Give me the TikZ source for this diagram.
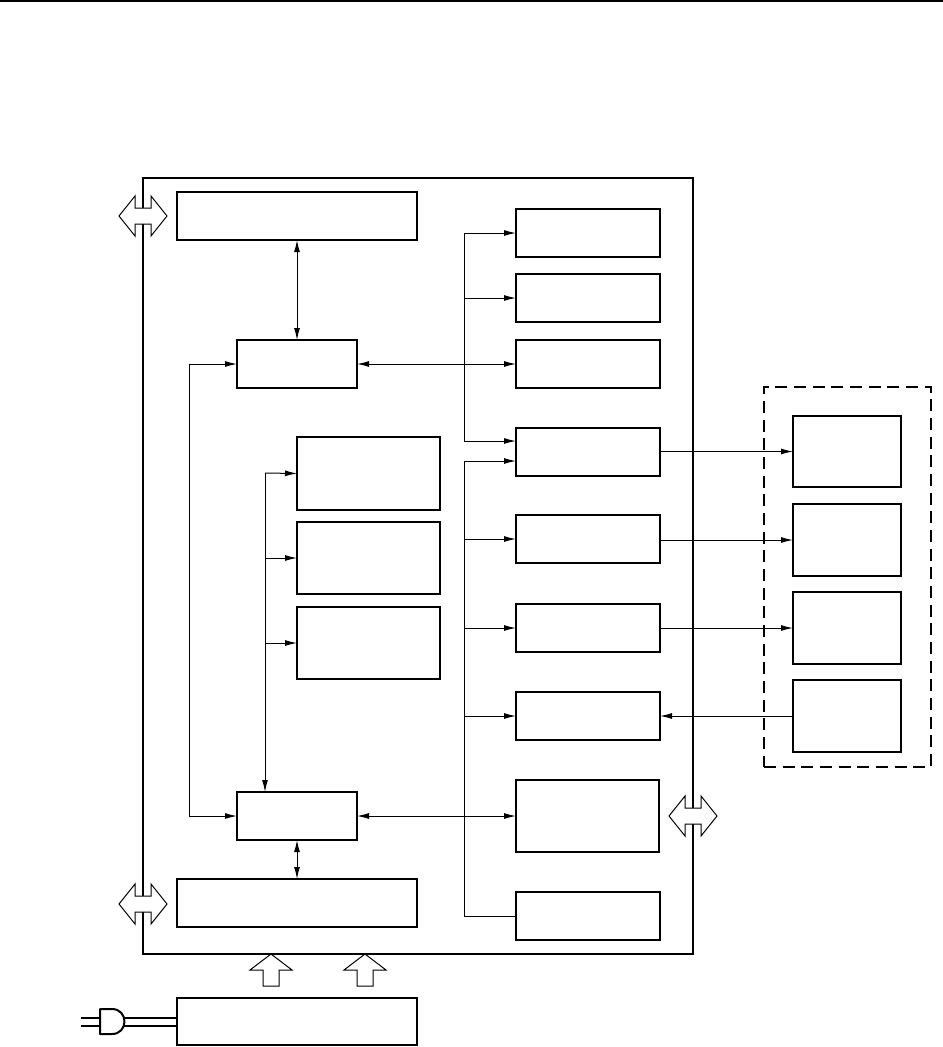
\documentclass[tikz,border=0pt]{standalone}
\usetikzlibrary{arrows.meta}
\tikzset{
  x=0.75pt,y=-0.75pt,
  blk/.style={draw=black,line width=1.5pt,fill=white,inner sep=0pt,outer sep=0pt},
  ln/.style={draw=black,line width=0.75pt},
  arr/.style={ln,-{Latex[length=9pt,width=4.5pt]}},
  darr/.style={ln,{Latex[length=9pt,width=4.5pt]}-{Latex[length=9pt,width=4.5pt]}},
  big/.style={draw=black,line width=0.75pt,fill=white,line join=miter},
  heavy/.style={draw=black,line width=1.5pt},
}
\newcommand{\bx}[6][]{\node[blk,#1,minimum width=#4*0.75pt-#2*0.75pt,minimum height=#5*0.75pt-#3*0.75pt] (#6) at ({(#2+#4)/2},{(#3+#5)/2}) {};}
\newcommand{\hdbl}[2]{\path[big] (#1-24,#2) -- (#1-8,#2-20) -- (#1-8,#2-8) -- (#1+8,#2-8) -- (#1+8,#2-20) -- (#1+24,#2) -- (#1+8,#2+20) -- (#1+8,#2+8) -- (#1-8,#2+8) -- (#1-8,#2+20) -- cycle;}
\newcommand{\uparr}[1]{\path[big] (#1,954) -- (#1+21,970) -- (#1+8,970) -- (#1+8,986) -- (#1-8,986) -- (#1-8,970) -- (#1-21,970) -- cycle;}
\begin{document}
\begin{tikzpicture}
\useasboundingbox (0,0) rectangle (943,1047);
\draw[heavy] (0,0.8) -- (943,0.8);
% outer and external frames
\bx[fill=none]{143}{178}{693}{954}{outer}
\node[draw=black,line width=1.1pt,dash pattern=on 9pt off 5pt,inner sep=0pt,outer sep=0pt,minimum width=125.25pt,minimum height=285pt] (ext) at ({(764+931)/2},{(387+767)/2}) {};
% blocks
\bx{177}{192}{416.5}{240}{top}
\bx{237}{340}{357}{387.5}{A}
\bx{237}{792}{357}{840}{B}
\bx{177}{879}{416.5}{927}{bot}
\bx{177}{998}{416.5}{1045}{pow}
\bx{516}{209}{660}{257}{Ra}
\bx{516}{274}{660}{322}{Rb}
\bx{516}{340}{660}{388}{Rc}
\bx{516}{428}{660}{476}{Rd}
\bx{516}{515}{660}{563}{Re}
\bx{516}{604}{660}{652}{Rf}
\bx{516}{692}{660}{740}{Rg}
\bx{516}{780}{659}{852}{Rh}
\bx{516}{892}{660}{940}{Ri}
\bx{297}{437}{440}{510}{Ma}
\bx{297}{522}{440}{594}{Mb}
\bx{297}{607}{440}{679}{Mc}
\bx{793}{416}{901}{487}{Ea}
\bx{793}{504}{901}{576}{Eb}
\bx{793}{592}{901}{664}{Ec}
\bx{793}{680}{901}{752}{Ed}
% junction coordinates
\coordinate (lt) at (189,364);
\coordinate (lb) at (189,816);
\coordinate (u1) at (464,233);
\coordinate (u2) at (464,298);
\coordinate (u3) at (464,441);
\coordinate (v1) at (464,461);
\coordinate (v2) at (464,539);
\coordinate (v3) at (464,628);
\coordinate (v4) at (464,716);
\coordinate (v5) at (464,916);
\coordinate (m1) at (265,473);
\coordinate (m2) at (265,558);
\coordinate (m3) at (265,643);
\coordinate (Rda) at ([yshift=8.25pt]Rd.west);
\coordinate (Rdb) at ([yshift=-6.75pt]Rd.west);
% connectors
\draw[darr] (A.north |- top.south) -- (A.north);
\draw[darr] (A.east |- Rc.west) -- (Rc.west);
\draw[darr] (A.west |- lt) -- (lt) -- (lb) -- (B.west);
\draw[ln] (u1) -- (u3);
\draw[arr] (u1) -- (Ra.west);
\draw[arr] (u2) -- (Rb.west);
\draw[arr] (u3) -- (Rda);
\draw[ln] (v1) -- (v5);
\draw[arr] (v1) -- (Rdb);
\draw[arr] (v2) -- (Re.west);
\draw[arr] (v3) -- (Rf.west);
\draw[arr] (v4) -- (Rg.west);
\draw[ln] (v5) -- (Ri.west);
\draw[darr] (B.east) -- (Rh.west);
\draw[arr] (m1) -- (Ma.west);
\draw[arr] (m2) -- (Mb.west);
\draw[arr] (m3) -- (Mc.west);
\draw[arr] (m1) -- (m1 |- B.north);
\draw[darr] (B.south) -- (B.south |- bot.north);
\draw[arr] (Rd.east |- Ea.west) -- (Ea.west);
\draw[arr] (Re.east |- Eb.west) -- (Eb.west);
\draw[arr] (Rf.east) -- (Ec.west);
\draw[arr] (Ed.west) -- (Rg.east);
% wide arrows
\hdbl{143}{216}
\hdbl{143}{904}
\hdbl{693}{816}
\uparr{271}
\uparr{365}
% plug
\draw[heavy,line width=1.25pt] (81,1018) -- (100,1018);
\draw[heavy,line width=1.25pt] (81,1026) -- (100,1026);
\draw[heavy,line width=1.25pt] (124,1018) -- (pow.west |- 0,1018);
\draw[heavy,line width=1.25pt] (124,1026) -- (pow.west |- 0,1026);
\draw[heavy,line join=round] (100,1009) -- (112,1009) .. controls (120,1009) and (124.5,1015) .. (124.5,1021.5) .. controls (124.5,1028) and (120,1034) .. (112,1034) -- (100,1034) -- cycle;
\end{tikzpicture}
\end{document}
